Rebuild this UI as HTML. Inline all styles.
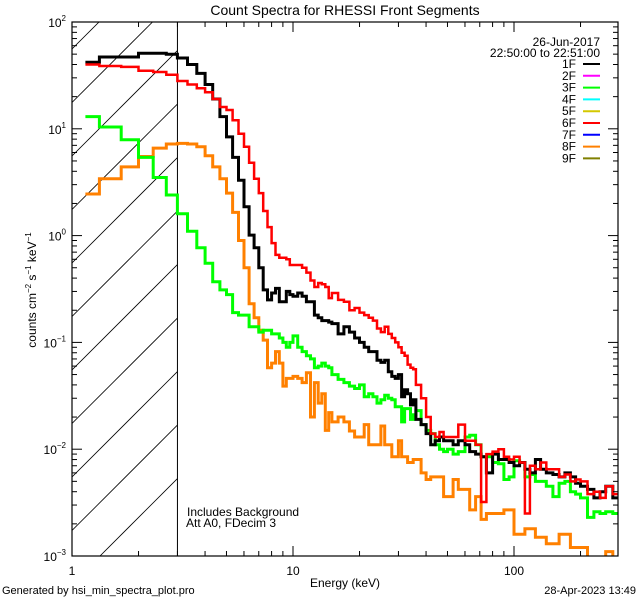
<!DOCTYPE html>
<html><head><meta charset="utf-8"><title>Count Spectra</title>
<style>
html,body{margin:0;padding:0;background:#fff;width:640px;height:600px;overflow:hidden;}
svg{display:block;font-family:"Liberation Sans",sans-serif;}
</style></head>
<body>
<svg id="chart" width="640" height="600" viewBox="0 0 640 600" xmlns="http://www.w3.org/2000/svg" overflow="hidden">
<rect x="0" y="0" width="640" height="600" fill="#fff"/>
<text x="345" y="15" font-size="14" text-anchor="middle" fill="#000">Count Spectra for RHESSI Front Segments</text>
<defs><clipPath id="plotclip"><rect x="72" y="22" width="546" height="534"/></clipPath></defs>
<g id="hatch" clip-path="url(#plotclip)"></g>
<g id="series" clip-path="url(#plotclip)"></g>
<g id="axes"></g>
<text x="187" y="516" font-size="12" fill="#000">Includes Background</text>
<text x="186" y="527" font-size="12" fill="#000">Att A0, FDecim 3</text>
<text x="345" y="587" font-size="12" text-anchor="middle" fill="#000">Energy (keV)</text>
<text transform="translate(36,290) rotate(-90)" font-size="12" text-anchor="middle" fill="#000">counts cm<tspan dy="-5" font-size="8">−2</tspan><tspan dy="5"> s</tspan><tspan dy="-5" font-size="8">−1</tspan><tspan dy="5"> keV</tspan><tspan dy="-5" font-size="8">−1</tspan></text>
<text x="2" y="594" font-size="11" fill="#000">Generated by hsi_min_spectra_plot.pro</text>
<text x="636" y="594" font-size="11" text-anchor="end" fill="#000">28-Apr-2023 13:49</text>
<text x="600" y="46" font-size="12" text-anchor="end" fill="#000">26-Jun-2017</text>
<text x="600" y="57" font-size="12" text-anchor="end" fill="#000">22:50:00 to 22:51:00</text>
<g id="legend"></g>
</svg>
<script>
const edges = [1.15,1.33,1.67,2,2.33,2.67,3,3.33,3.67,4,4.33,4.67,5,5.33,5.67,6,6.33,6.67,7,7.33,7.67,8,8.33,8.67,9,9.33,9.67,
10,10.5,11,11.5,12,12.5,13,13.5,14,14.5,
15,16,17,18,19,20,21,22,23,24,25,26,27,28,29,30,31,32,33,34,35,
36,38,40,42,44,46,48,
50,53,56,60,63,67,71,75,80,85,90,95,
100,106,112,118,125,132,140,150,160,170,180,190,
200,215,230,245,260,280,300];
const seg1F = [42,47,47,51,51,50,46,40,33,26,19,13,8.4,5.4,3.3,1.86,1.01,0.77,0.5,0.31,0.25,0.29,0.32,0.24,0.24,0.30,0.28,
0.27,0.29,0.27,0.24,0.24,0.18,0.17,0.16,0.16,0.155,
0.15,0.12,0.14,0.125,0.11,0.10,0.09,0.082,0.082,0.068,0.065,0.068,0.053,0.048,0.046,0.050,0.031,0.036,0.033,0.026,0.029,
0.019,0.017,0.014,0.011,0.012,0.013,0.012,
0.012,0.011,0.012,0.011,0.0095,0.009,0.0085,0.006,0.009,0.008,0.008,0.0075,
0.007,0.0075,0.0065,0.006,0.008,0.0065,0.006,0.0058,0.0055,0.006,0.0055,0.0048,
0.0045,0.0042,0.0035,0.004,0.0045,0.0035];
const seg6F = [40,38.7,38,35,34,32,28,26,24,22,19,16,15,12,9,6.8,4.8,3.4,2.5,1.7,1.2,0.85,0.66,0.62,0.62,0.6,0.53,
0.53,0.53,0.50,0.45,0.38,0.33,0.36,0.35,0.33,0.26,
0.29,0.25,0.24,0.20,0.21,0.19,0.18,0.17,0.16,0.135,0.125,0.14,0.12,0.11,0.10,0.09,0.08,0.075,0.062,0.058,0.056,
0.04,0.03,0.02,0.014,0.013,0.0145,0.013,
0.013,0.013,0.017,0.012,0.012,0.011,0.0032,0.009,0.0095,0.01,0.0085,0.008,
0.0085,0.0075,0.0025,0.007,0.0065,0.0075,0.0065,0.0065,0.0055,0.0058,0.005,0.0052,
0.005,0.0038,0.004,0.0035,0.0045,0.0038];
const seg3F = [13,10.4,7.9,5.4,3.5,2.4,1.6,1.1,0.77,0.55,0.37,0.31,0.28,0.19,0.18,0.18,0.14,0.14,0.125,0.13,0.13,0.12,0.12,0.11,0.1,0.09,0.10,
0.115,0.09,0.082,0.075,0.07,0.058,0.06,0.064,0.06,0.058,
0.05,0.045,0.042,0.039,0.037,0.04,0.031,0.033,0.031,0.027,0.029,0.032,0.03,0.029,0.025,0.025,0.018,0.024,0.024,0.019,0.021,
0.023,0.017,0.015,0.014,0.011,0.01,0.0095,
0.01,0.009,0.0095,0.013,0.0135,0.011,0.0085,0.0085,0.0075,0.0073,0.0052,0.0055,
0.0078,0.0075,0.0055,0.0058,0.005,0.005,0.0045,0.0036,0.0048,0.005,0.004,0.0038,
0.0035,0.0023,0.0026,0.0025,0.0026,0.0025];
const seg8F = [2.45,3.4,4.4,5.5,6.6,7.2,7.3,7.2,6.8,5.6,4.4,3.4,2.5,1.65,0.9,0.5,0.23,0.17,0.13,0.105,0.058,0.064,0.082,0.064,0.039,0.046,0.046,
0.048,0.046,0.042,0.052,0.02,0.042,0.027,0.033,0.015,0.022,
0.018,0.02,0.018,0.0148,0.013,0.013,0.017,0.011,0.011,0.011,0.0165,0.011,0.011,0.0085,0.0085,0.012,0.0085,0.0085,0.0075,0.0075,0.008,
0.008,0.006,0.0052,0.0055,0.0055,0.0055,0.0036,
0.0036,0.0052,0.0042,0.0042,0.0027,0.0036,0.0022,0.0025,0.0025,0.0025,0.0027,0.0027,
0.0016,0.0016,0.0018,0.0018,0.0015,0.0015,0.0013,0.0013,0.0016,0.0016,0.0012,0.0012,
0.0012,0.0009,0.0009,0.0009,0.0011,0.0008];
const legendLabels = ["1F","2F","3F","4F","5F","6F","7F","8F","9F"];
const legendColors = ["#000000","#ff00ff","#00ff00","#00ffff","#d4c800","#ff0000","#0000ff","#ff8000","#808000"];
const yTickExps = [-3,-2,-1,0,1,2];
const xTickLabels = ["1","10","100"];
const xTickValues = [1,10,100];
const attenuatorEdge = 3;

const NS = "http://www.w3.org/2000/svg";
const X0 = 72, X1 = 618, Y0 = 22, Y1 = 556;
const xMinLog = 0, decX = 221;
const yMinLog = -3, yMaxLog = 2;
function xs(e){ return X0 + decX * (Math.log10(e) - xMinLog); }
function ys(v){ return Y1 - (Y1 - Y0) * (Math.log10(v) - yMinLog) / (yMaxLog - yMinLog); }
function mk(tag, attrs, parent){ const el = document.createElementNS(NS, tag); for (const k in attrs) el.setAttribute(k, attrs[k]); parent.appendChild(el); return el; }

const hatch = document.getElementById('hatch');
const ax = xs(attenuatorEdge);
for (let k = 0; k < 11; k++) {
  const c = 584 - 53.5 * k;
  const ln = mk('line', {x1: X0, y1: c, x2: ax, y2: c - (ax - X0), stroke: '#000', 'stroke-width': 0.8}, hatch);
  
  
}
const av = mk('line', {x1: ax, y1: Y0, x2: ax, y2: Y1, stroke: '#000', 'stroke-width': 1}, hatch);



const series = document.getElementById('series');
function drawStep(vals, color, width, name){
  let d = '';
  for (let i = 0; i < vals.length; i++) {
    const xa = xs(edges[i]).toFixed(1), xb = xs(edges[i+1]).toFixed(1), y = ys(vals[i]).toFixed(1);
    d += (i === 0 ? 'M' : 'L') + xa + ',' + y + 'L' + xb + ',' + y;
  }
  const p = mk('path', {d: d, fill: 'none', stroke: color, 'stroke-width': width, 'stroke-linejoin': 'miter'}, series);
  
  
}
drawStep(seg8F, '#ff8000', 3, 'series-8f');
drawStep(seg3F, '#00ff00', 3, 'series-3f');
drawStep(seg1F, '#000000', 3, 'series-1f');
drawStep(seg6F, '#ff0000', 2.5, 'series-6f');

const axes = document.getElementById('axes');
const frame = mk('rect', {x: X0, y: Y0, width: X1 - X0, height: Y1 - Y0, fill: 'none', stroke: '#000', 'stroke-width': 1.2}, axes);


for (let dec = 1; dec <= 100; dec *= 10) {
  for (let m = 1; m <= 9; m++) {
    const e = dec * m; const x = xs(e);
    if (x < X0 - 0.5 || x > X1 + 0.5) continue;
    const L = m === 1 ? 10 : 5;
    const t1 = mk('line', {x1: x, y1: Y1, x2: x, y2: Y1 - L, stroke: '#000'}, axes);
    
    
    const t2 = mk('line', {x1: x, y1: Y0, x2: x, y2: Y0 + L, stroke: '#000'}, axes);
    
    
  }
}
xTickValues.forEach((v, i) => {
  const t = mk('text', {x: xs(v), y: 575, 'font-size': 12, 'text-anchor': 'middle', fill: '#000'}, axes);
  t.textContent = xTickLabels[i];
  
  
});
for (let ex = -3; ex <= 1; ex++) {
  for (let m = 1; m <= 9; m++) {
    const y = ys(m * Math.pow(10, ex));
    const L = m === 1 ? 10 : 5;
    const t1 = mk('line', {x1: X0, y1: y, x2: X0 + L, y2: y, stroke: '#000'}, axes);
    
    
    const t2 = mk('line', {x1: X1, y1: y, x2: X1 - L, y2: y, stroke: '#000'}, axes);
    
    
  }
}
yTickExps.forEach(ex => {
  const y = ys(Math.pow(10, ex));
  const t = mk('text', {x: 66, y: y + 5, 'font-size': 12, 'text-anchor': 'end', fill: '#000'}, axes);
  
  
  const a = mk('tspan', {}, t); a.textContent = '10';
  const b = mk('tspan', {dy: -6, 'font-size': 8}, t); b.textContent = ex < 0 ? '−' + (-ex) : String(ex);
});

const legend = document.getElementById('legend');
legendLabels.forEach((lab, i) => {
  const y = 68 + i * 11.8;
  const t = mk('text', {x: 576, y: y, 'font-size': 12, 'text-anchor': 'end', fill: '#000'}, legend);
  t.textContent = lab;
  
  
  const l = mk('line', {x1: 583, y1: y - 4, x2: 600, y2: y - 4, stroke: legendColors[i], 'stroke-width': 2}, legend);
  
  
});
</script>
</body></html>
